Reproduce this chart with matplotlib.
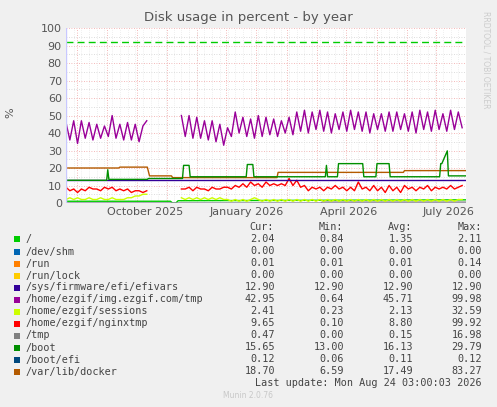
import numpy as np
import matplotlib
matplotlib.use("Agg")
import matplotlib.pyplot as plt

W, H = 497, 407
# time axis in days since start (about Aug 24 2025)
month_labels = ["October 2025", "January 2026", "April 2026", "July 2026"]
month_label_days = [72, 164, 257, 348]
month_grid_days = [10, 37, 65, 92, 119, 146, 173, 201, 228, 255, 283, 310, 337, 364]

step = 3.5
purple = [46, 36, 47, 34, 47, 37, 46, 36, 45, 37, 44, 38, 50, 37, 45, 36, 46, 36, 45, 35, 44, 47,
          np.nan, np.nan, np.nan, np.nan, np.nan, np.nan, np.nan, np.nan,
          50, 38, 50, 37, 49, 37, 47, 36, 47, 35, 45, 33, 43, 38, 52, 40, 49, 38, 48, 37,
          50, 38, 49, 39, 48, 38, 47, 40, 49, 39, 52, 41, 53, 40, 52, 42, 53, 41, 52, 40,
          51, 42, 52, 41, 53, 42, 52, 41, 52, 40, 51, 42, 51, 41, 52, 41, 52, 42, 51, 41,
          52, 40, 53, 42, 52, 41, 53, 42, 51, 41, 53, 42, 52, 43]
red = [9, 7, 8, 6, 8, 7, 9, 8, 8, 7, 9, 8, 9, 7, 8, 7, 8, 6, 7, 7, 6, 7,
       np.nan, np.nan, np.nan, np.nan, np.nan, np.nan, np.nan, np.nan,
       8, 8, 9, 7, 9, 8, 8, 7, 9, 8, 8, 9, 9, 8, 10, 9, 11, 9, 12, 10,
       11, 9, 12, 10, 11, 10, 11, 10, 14, 10, 13, 9, 10, 7, 9, 8, 9, 7, 9, 8,
       10, 8, 9, 7, 9, 7, 12, 8, 9, 7, 10, 7, 9, 6, 10, 7, 9, 6, 10, 8,
       9, 7, 9, 8, 10, 7, 9, 8, 9, 8, 10, 8, 9, 10]
yellow = [2, 3, 2, 3, 2, 2, 3, 2, 2, 3, 2, 2, 3, 2, 2, 2, 3, 3, 4, 4, 5, 5,
          np.nan, np.nan, np.nan, np.nan, np.nan, np.nan, np.nan, np.nan,
          3, 2, 3, 2, 3, 2, 3, 2, 3, 2, 3, 2, 2, 1, 2, 1, 2, 1, 2, 3,
          2, 1, 2, 1, 2, 1, 2, 1, 2, 1, 2, 1, 2, 1, 2, 1, 2, 1, 2, 1,
          2, 1, 2, 1, 2, 1, 2, 1, 2, 1, 2, 1, 2, 1, 2, 1, 2, 1, 2, 1,
          2, 1, 2, 1, 2, 1, 2, 1, 2, 1, 2, 1, 2, 2]

boot_days = [0, 37, 38, 39, 40, 74, 75, 106, 107, 108, 112, 113, 164, 165, 170, 171, 217, 218,
             236, 237, 238, 247, 248, 270, 271, 282, 283, 294, 295, 340, 341, 342, 347, 348, 364]
boot_vals = [13, 13, 19, 13.5, 13.5, 13.5, 14, 14, 21.5, 21.5, 21.5, 15, 15, 22, 22, 15, 15, 15,
             15, 21.5, 15, 15, 22.5, 22.5, 15, 15, 22.5, 22.5, 15, 15, 22.5, 22.5, 29.8, 15.5, 15.5]
docker_days = [0, 48, 49, 74, 76, 96, 97, 192, 193, 307, 308, 364]
docker_vals = [20, 20, 20.5, 20.5, 15.5, 15.5, 14.5, 14.5, 17.5, 17.5, 18.5, 18.5]
root_days = [0, 95, 97, 100, 102, 364]
root_vals = [1, 1, 0, 0, 1.3, 1.8]
tmp_days = [0, 232, 233, 364]
tmp_vals = [0, 0, 0.5, 0.5]
efivars = 12.9
warning = 92

names = ["/", "/dev/shm", "/run", "/run/lock", "/sys/firmware/efi/efivars",
         "/home/ezgif/img.ezgif.com/tmp", "/home/ezgif/sessions", "/home/ezgif/nginxtmp",
         "/tmp", "/boot", "/boot/efi", "/var/lib/docker"]
colors = ["#00cc00", "#0066b3", "#ff8000", "#ffcc00", "#330099", "#990099", "#ccff00",
          "#ff0000", "#808080", "#008f00", "#00487d", "#b35a00"]
cur = ["2.04", "0.00", "0.01", "0.00", "12.90", "42.95", "2.41", "9.65", "0.47", "15.65", "0.12", "18.70"]
mins = ["0.84", "0.00", "0.01", "0.00", "12.90", "0.64", "0.23", "0.10", "0.00", "13.00", "0.06", "6.59"]
avgs = ["1.35", "0.00", "0.01", "0.00", "12.90", "45.71", "2.13", "8.80", "0.15", "16.13", "0.11", "17.49"]
maxs = ["2.11", "0.00", "0.14", "0.00", "12.90", "99.98", "32.59", "99.92", "16.98", "29.79", "0.12", "83.27"]

fig = plt.figure(figsize=(W / 100, H / 100), dpi=100, facecolor="#f0f0f0")
ax = fig.add_axes([66 / W, 1 - 203 / H, 400 / W, 175 / H], facecolor="white")
ax.set_xlim(0, 364)
ax.set_ylim(0, 100)

for y in range(5, 100, 10):
    ax.axhline(y, color="#d0d0d0", lw=0.6, ls=(0, (1, 2)), zorder=0)
for y in range(10, 101, 10):
    ax.axhline(y, color="#f0a0a0", lw=0.6, ls=(0, (1, 2)), zorder=0)
for d in month_grid_days:
    ax.axvline(d, color="#f0a0a0", lw=0.6, ls=(0, (1, 2)), zorder=0)
for d in range(0, 364, 7):
    ax.axvline(d, color="#e0e0e0", lw=0.5, ls=(0, (1, 2)), zorder=0)

xs = np.arange(len(purple)) * step
ax.axhline(warning, color="#00cc00", lw=1, ls=(0, (5, 3)))
ax.plot(root_days, root_vals, color=colors[0], lw=1)
ax.plot(tmp_days, tmp_vals, color=colors[8], lw=1)
ax.plot(xs, yellow, color=colors[6], lw=1)
ax.plot(xs, red, color=colors[7], lw=1)
ax.axhline(efivars, color=colors[4], lw=1)
ax.plot(docker_days, docker_vals, color=colors[11], lw=1)
ax.plot(boot_days, boot_vals, color=colors[9], lw=1)
ax.plot(xs, purple, color=colors[5], lw=1)

ax.set_yticks(range(0, 101, 10))
ax.set_xticks(month_label_days)
ax.set_xticklabels(month_labels)
ax.tick_params(length=0, labelsize=8, colors="#555555", pad=3)
for s in ax.spines.values():
    s.set_visible(False)
ax.axhline(0, color="#c8c8ff", lw=1)
ax.axvline(0, color="#c8c8ff", lw=1)

fig.text(248 / W, 1 - 18 / H, "Disk usage in percent - by year", ha="center", va="center",
         fontsize=9.5, color="#555555")
fig.text(10 / W, 1 - 113 / H, "%", rotation=90, ha="center", va="center", fontsize=8, color="#555555")
fig.text(486 / W, 1 - 60 / H, "RRDTOOL / TOBI OETIKER", rotation=270, ha="center", va="center",
         fontsize=5.5, color="#cccccc")

mono = "DejaVu Sans Mono"
fs = 7.3
hy = 1 - 227 / H
for x, t in zip([262, 331, 400, 470], ["Cur:", "Min:", "Avg:", "Max:"]):
    fig.text(x / W, hy, t, ha="center", va="center", family=mono, fontsize=fs, color="#444444")
for i, n in enumerate(names):
    y = 1 - (239.5 + i * 12) / H
    fig.patches.append(plt.Rectangle((14 / W, y - 3 / H), 6 / W, 6 / H, transform=fig.transFigure,
                                     facecolor=colors[i], edgecolor="none"))
    fig.text(26 / W, y, n, ha="left", va="center", family=mono, fontsize=fs, color="#444444")
    for x, v in zip([275, 344, 413, 482], [cur[i], mins[i], avgs[i], maxs[i]]):
        fig.text(x / W, y, v, ha="right", va="center", family=mono, fontsize=fs, color="#444444")
fig.text(482 / W, 1 - 383.5 / H, "Last update: Mon Aug 24 03:00:03 2026", ha="right", va="center",
         family=mono, fontsize=fs, color="#444444")
fig.text(248 / W, 1 - 396 / H, "Munin 2.0.76", ha="center", va="center", fontsize=5.5, color="#c8c8c8")

fig.savefig("out.png", dpi=100, facecolor=fig.get_facecolor())
